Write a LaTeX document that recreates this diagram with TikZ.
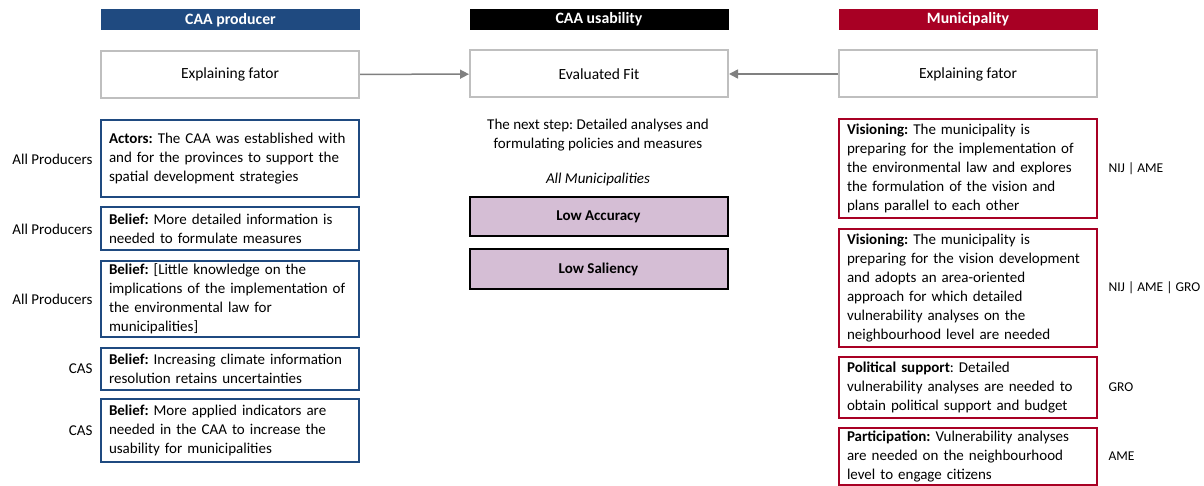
\documentclass[tikz,border=0pt]{standalone}
\usepackage{fontspec}
\setmainfont{Carlito}
\frenchspacing
\usetikzlibrary{arrows.meta,positioning}
\definecolor{prodblue}{RGB}{31,74,128}
\definecolor{munired}{RGB}{168,0,36}
\definecolor{fitgray}{RGB}{191,191,191}
\definecolor{arrgray}{RGB}{128,128,128}
\definecolor{lowpurple}{RGB}{213,190,213}
\begin{document}
\begin{tikzpicture}[x=1pt,y=-1pt,font=\fontsize{15}{19}\selectfont]
    \tikzstyle{header}=[minimum width=259pt, minimum height=21pt, inner sep=0pt, text=white, font=\fontsize{15.8}{19}\selectfont\bfseries]
    \tikzstyle{factor}=[draw=fitgray, line width=2pt, minimum width=258pt, minimum height=47pt, inner sep=0pt, font=\fontsize{15.5}{19}\selectfont]
    \tikzstyle{probox}=[draw=prodblue, line width=2pt, text width=242pt, inner xsep=8pt, inner ysep=1pt, align=left]
    \tikzstyle{munibox}=[draw=munired, line width=2pt, text width=242pt, inner xsep=8pt, inner ysep=1pt, align=left]
    \tikzstyle{lowbox}=[draw=black, fill=lowpurple, line width=2pt, minimum width=258pt, minimum height=39pt, inner sep=0pt, font=\fontsize{15}{19}\selectfont\bfseries]
    \tikzstyle{codes}=[font=\fontsize{13.5}{16}\selectfont]
    \tikzstyle{link}=[draw=arrgray, line width=1.5pt, -{Triangle[length=9pt,width=9pt]}]
    \useasboundingbox (0,0) rectangle (1204,486);

    % column headers
    \node[header, fill=prodblue] (prodhead) at (230.5,20) {CAA producer};
    \node[header, fill=black]    (usehead)  at (599,19.5) {CAA usability};
    \node[header, fill=munired]  (munihead) at (968,19.5) {Municipality};

    \node[factor] (prodfac) at (230,74.5) {Explaining fator};
    \node[factor] (fit)     at (599,74)   {Evaluated Fit};
    \node[factor] (munifac) at (968,74)   {Explaining fator};

    \draw[link] (prodfac) -- (fit);
    \draw[link] (munifac) -- (fit);

    % producer side
    \node[probox, minimum height=77pt] (actors) at (230,159)
        {\textbf{Actors:} The CAA was established with\\and for the provinces to support the\\spatial development strategies};
    \node[probox, minimum height=43pt] (belief1) at (230,229)
        {\textbf{Belief:} More detailed information is\\needed to formulate measures};
    \node[probox, minimum height=76pt] (belief2) at (230,299)
        {\textbf{Belief:} [Little knowledge on the\\implications of the implementation of\\the environmental law for\\municipalities]};
    \node[probox, minimum height=42pt] (belief3) at (230,369)
        {\textbf{Belief:} Increasing climate information\\resolution retains uncertainties};
    \node[probox, minimum height=63pt] (belief4) at (230,430.5)
        {\textbf{Belief:} More applied indicators are\\needed in the CAA to increase the\\usability for municipalities};

    \node[anchor=east, left=4pt of actors]  (prodlab1) {All Producers};
    \node[anchor=east, left=4pt of belief1] (prodlab2) {All Producers};
    \node[anchor=east, left=4pt of belief2] (prodlab3) {All Producers};
    \node[anchor=east, left=4pt of belief3] (prodlab4) {CAS};
    \node[anchor=east, left=4pt of belief4] (prodlab5) {CAS};

    % usability column
    \node[align=center] (nextstep) at (598,135)
        {The next step: Detailed analyses and\\formulating policies and measures};
    \node (allmuni) at (598,180) {\itshape All Municipalities};
    \node[lowbox] (accuracy) at (598.5,217) {Low Accuracy};
    \node[lowbox] (saliency) at (598.5,269) {Low Saliency};

    % municipality side
    \node[munibox, minimum height=99pt] (vision1) at (968,168.5)
        {\textbf{Visioning:} The municipality is\\preparing for the implementation of\\the environmental law and explores\\the formulation of the vision and\\plans parallel to each other};
    \node[munibox, minimum height=118pt] (vision2) at (968,288)
        {\textbf{Visioning:} The municipality is\\preparing for the vision development\\and adopts an area-oriented\\approach for which detailed\\vulnerability analyses on the\\neighbourhood level are needed};
    \node[munibox, minimum height=61pt] (polsupport) at (968,387.5)
        {\textbf{Political support}: Detailed\\vulnerability analyses are needed to\\obtain political support and budget};
    \node[munibox, minimum height=57pt] (particip) at (968,456.5)
        {\textbf{Participation:} Vulnerability analyses\\are needed on the neighbourhood\\level to engage citizens};

    \node[codes, anchor=west, right=7pt of vision1]    (munilab1) {NIJ | AME};
    \node[codes, anchor=west, right=7pt of vision2]    (munilab2) {NIJ | AME | GRO};
    \node[codes, anchor=west, right=7pt of polsupport] (munilab3) {GRO};
    \node[codes, anchor=west, right=7pt of particip]   (munilab4) {AME};
\end{tikzpicture}
\end{document}
